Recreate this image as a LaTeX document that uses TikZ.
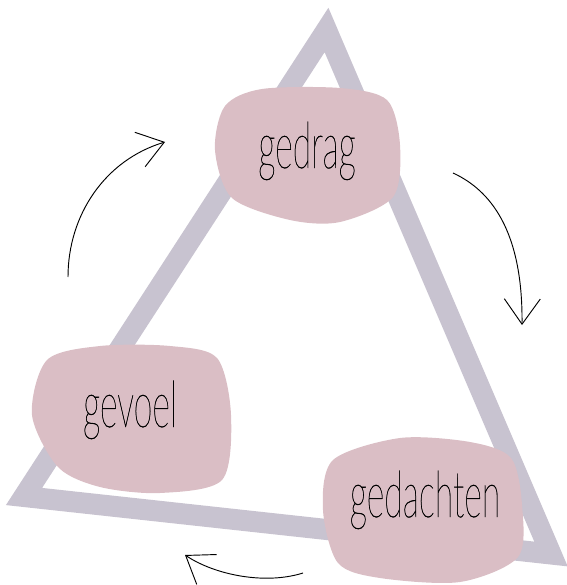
\documentclass[tikz,border=0pt]{standalone}
\usepackage{fontspec}
\newfontfamily\handfont{Lato Hairline}[FakeBold=0.6]
\usetikzlibrary{arrows.meta}
\definecolor{trianglegray}{RGB}{200,195,208}
\definecolor{blobpink}{RGB}{218,190,197}
\newcommand{\handword}[1]{\scalebox{0.58}[1.1]{\handfont\fontsize{44}{44}\selectfont #1}}

\begin{document}
\begin{tikzpicture}[x=0.75pt,y=-0.75pt,
        blob/.style={fill=blobpink},
        word/.style={anchor=base,text=black,inner sep=0pt},
        cyclearrow/.style={line width=0.7pt,-{Straight Barb[length=19pt,width=27pt]}}]
        \useasboundingbox (0,0) rectangle (567,585);

        % Triangle
        \draw[trianglegray,line width=15.75pt,line join=miter] (326.5,30) -- (24,496.5) -- (551,554) -- cycle;

        % Gedrag
        \fill[blob] plot[smooth cycle] coordinates {(262,89) (340,88) (387,100) (400,145) (393,197) (340,222) (290,220) (232,198) (215,150) (225,106)};
        \node[word] (gedrag) at (307,168) {\handword{gedrag}};

        % Gevoel
        \fill[blob] plot[smooth cycle] coordinates {(100,346) (170,346) (217,358) (231,415) (222,480) (160,493) (100,487) (58,467) (32,415) (47,360)};
        \node[word] (gevoel) at (130,427) {\handword{gevoel}};

        % Gedachten
        \fill[blob] plot[smooth cycle] coordinates {(400,438) (470,442) (511,458) (522,505) (518,557) (460,582) (380,578) (338,563) (323,510) (333,460)};
        \node[word] (gedachten) at (425,517) {\handword{gedachten}};

        % Arrows
        \coordinate (leftstart) at (68,277);
        \coordinate (leftend) at (165,142);
        \coordinate (rightstart) at (453,173);
        \coordinate (rightend) at (522,325);
        \coordinate (bottomstart) at (303,573);
        \coordinate (bottomend) at (185,555);
        \draw[cyclearrow] (leftstart) .. controls (68,215) and (105,160) .. (leftend);
        \draw[cyclearrow] (rightstart) .. controls (490,190) and (523,230) .. (rightend);
        \draw[cyclearrow] (bottomstart) .. controls (265,585) and (215,575) .. (bottomend);
    \end{tikzpicture}
\end{document}
